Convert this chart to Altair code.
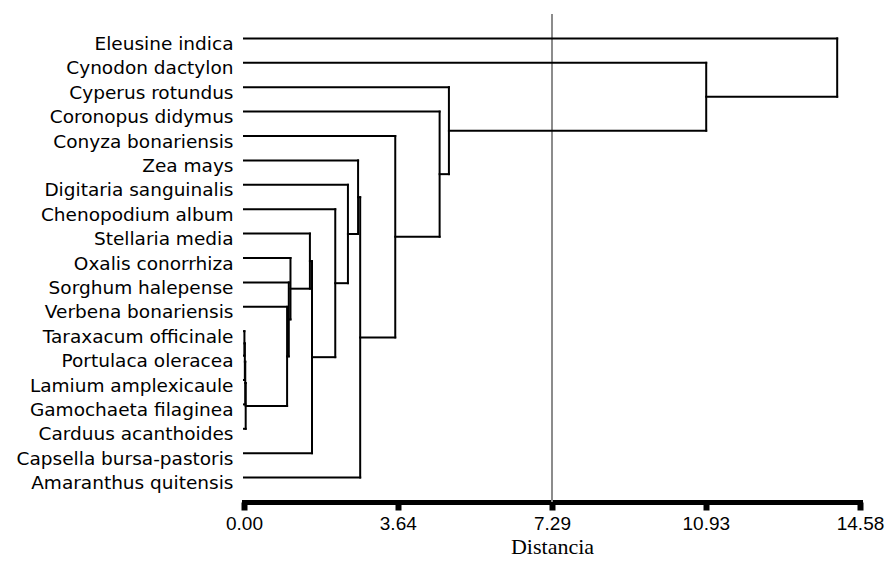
import altair as alt
import pandas as pd

# Leaf labels, top to bottom
leaves = [
    "Eleusine indica", "Cynodon dactylon", "Cyperus rotundus", "Coronopus didymus",
    "Conyza bonariensis", "Zea mays", "Digitaria sanguinalis", "Chenopodium album",
    "Stellaria media", "Oxalis conorrhiza", "Sorghum halepense", "Verbena bonariensis",
    "Taraxacum officinale", "Portulaca oleracea", "Lamium amplexicaule",
    "Gamochaeta filaginea", "Carduus acanthoides", "Capsella bursa-pastoris",
    "Amaranthus quitensis",
]

# Merges (node ids: leaves 0..18, then each merge gets the next id, 19, 20, ...)
merge_a = [12, 19, 20, 21, 11, 10, 9, 8, 26, 7, 6, 5, 30, 4, 3, 2, 1, 0]
merge_b = [13, 14, 15, 16, 22, 23, 24, 25, 17, 27, 28, 29, 18, 31, 32, 33, 34, 35]
merge_h = [0.01, 0.02, 0.03, 0.04, 1.02, 1.06, 1.10, 1.56, 1.61, 2.16, 2.46,
           2.70, 2.75, 3.58, 4.63, 4.85, 10.94, 14.04]

tick_values = [0.00, 3.64, 7.29, 10.93, 14.58]
cut_value = [7.29]
axis_max = 14.58

# Build dendrogram segments from the merge table
pos = {i: float(i) for i in range(len(leaves))}
hgt = {i: 0.0 for i in range(len(leaves))}
rows = []
for k, (a, b, h) in enumerate(zip(merge_a, merge_b, merge_h)):
    nid = len(leaves) + k
    ya, yb = pos[a], pos[b]
    rows.append({"x": hgt[a], "x2": h, "y": ya, "y2": ya})
    rows.append({"x": hgt[b], "x2": h, "y": yb, "y2": yb})
    rows.append({"x": h, "x2": h, "y": ya, "y2": yb})
    pos[nid] = (ya + yb) / 2
    hgt[nid] = h
seg_df = pd.DataFrame(rows)

label_expr = "[" + ",".join("'" + s + "'" for s in leaves) + "][datum.value]"

xscale = alt.Scale(domain=[0, axis_max], nice=False, zero=False)
yscale = alt.Scale(domain=[-1, 19], reverse=True, nice=False, zero=False)

x_axis = alt.Axis(
    values=tick_values, format=".2f", title="Distancia", grid=False,
    domainColor="black", domainWidth=5, domainCap="square",
    tickColor="black", tickWidth=6, tickSize=8,
    labelFont="Liberation Sans", labelFontSize=19, labelColor="black",
    labelPadding=4, labelFlush=False,
    titleFont="Liberation Serif", titleFontSize=22, titleFontWeight="normal",
    titleColor="black", titleBaseline="alphabetic", titleY=51,
)
y_axis = alt.Axis(
    values=list(range(len(leaves))), labelExpr=label_expr, title=None,
    grid=False, domain=False, ticks=False, tickSize=0,
    labelFont="DejaVu Sans", labelFontSize=18.5, labelColor="black",
    labelPadding=11, labelOffset=5, labelBaseline="middle", labelLimit=400,
)

cut = alt.Chart(pd.DataFrame({"x": cut_value})).mark_rule(
    color="#8c8c8c", strokeWidth=2
).encode(x=alt.X("x:Q", scale=xscale, axis=x_axis))

segs = alt.Chart(seg_df).mark_rule(
    color="black", strokeWidth=2, strokeCap="square"
).encode(
    x=alt.X("x:Q", scale=xscale, axis=x_axis),
    x2="x2:Q",
    y=alt.Y("y:Q", scale=yscale, axis=y_axis),
    y2="y2:Q",
)

chart = alt.layer(cut, segs).properties(
    width=616, height=488,
    autosize=alt.AutoSizeParams(type="none"),
    padding={"left": 236, "top": 6, "right": 25, "bottom": 56},
).configure_view(strokeWidth=0)

chart.save("out.html", embed_options={"renderer": "svg", "actions": False})
